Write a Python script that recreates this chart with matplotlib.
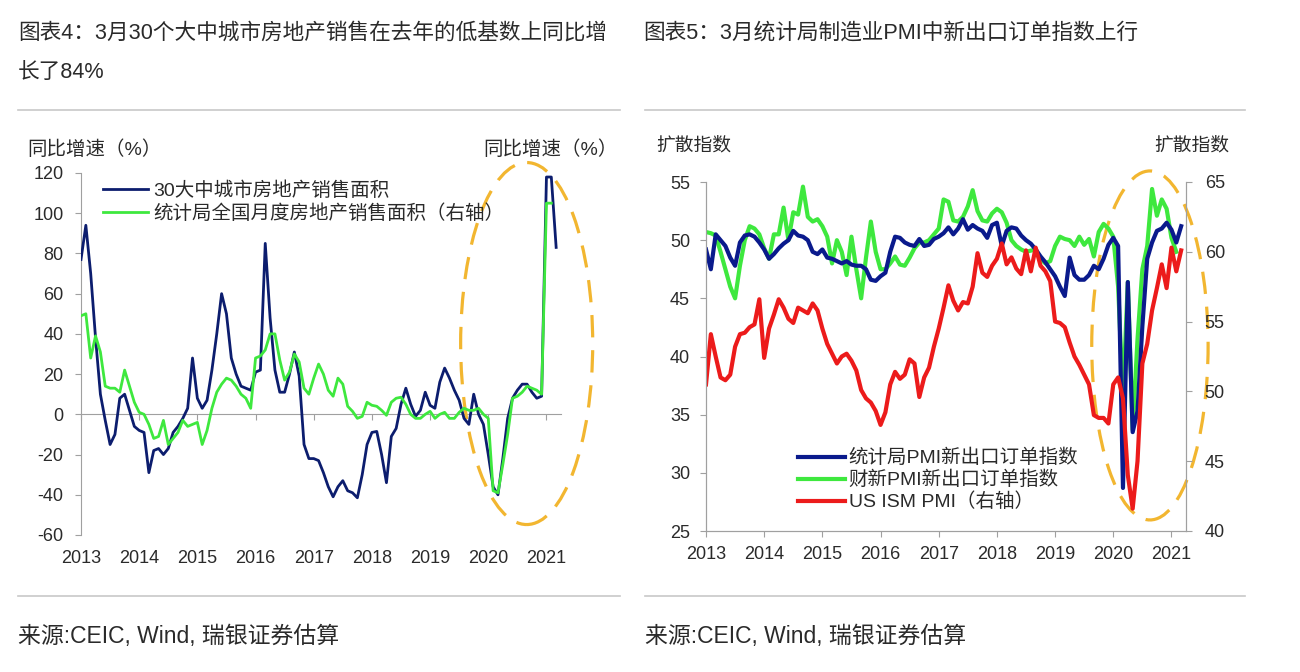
import numpy as np
import matplotlib
matplotlib.use('Agg')
import matplotlib.pyplot as plt
from matplotlib.patches import Ellipse
from matplotlib.lines import Line2D

plt.rcParams['font.family'] = ['Liberation Sans', 'Noto Sans CJK SC']
plt.rcParams['axes.unicode_minus'] = False

# monthly, Jan 2013 .. Mar 2021
city30_sales = [77, 94, 70, 38, 10, -3, -15, -10, 8, 10, 2, -6,
                -8, -9, -29, -18, -17, -20, -17, -9, -6, -2, 3, 28,
                8, 3, 7, 22, 40, 60, 50, 28, 20, 14, 13, 12,
                21, 22, 85, 48, 22, 11, 11, 20, 31, 19, -15, -22,
                -22, -23, -29, -36, -41, -36, -33, -38, -39, -41.5, -30, -15,
                -9, -8.5, -20, -34, -11, -7, 5, 13, 5, -1, 2, 11,
                4.5, 3, 16, 23, 18, 12, 7, -2, -5, 10, 0, -5,
                -20, -36, -40, -22, -2, 8, 12, 15, 15, 11, 8, 9,
                118, 118, 83]
nbs_sales = [49, 50, 28, 39, 31, 14, 13, 13, 11, 22, 14, 6,
             1, 0, -5, -12, -11, -3, -15, -12, -9, -3, -6, -5,
             -4, -15, -8, 3, 11, 15, 18, 17, 14, 10, 8, 3,
             28, 29, 32, 40, 40, 27, 17, 21, 30, 26, 13, 10,
             18, 25, 20, 12, 9, 18, 15, 4, 1.5, -2, -1, 6,
             4.5, 4, 2, -0.5, 6, 8, 8.5, 5, 0, -2, -2, 0,
             1.5, -2, 0, 1, -2, -2, 1, 3, 2, 2, 3, 0,
             -2, -38, -39, -25, -10, 8, 9, 11, 14, 13, 12, 10,
             105, 105, np.nan]

nbs_export = [49.2, 47.5, 50.5, 50.0, 49.5, 48.5, 47.8, 49.8, 50.4, 50.5, 50.3, 49.8,
              49.2, 48.4, 48.8, 49.3, 49.7, 50.0, 50.8, 50.4, 50.3, 50.0, 49.0, 48.8,
              49.2, 48.5, 48.4, 48.2, 48.0, 48.2, 47.9, 47.8, 47.8, 47.5, 46.6, 46.5,
              46.9, 47.2, 49.0, 50.3, 50.2, 49.8, 49.6, 49.5, 50.1, 49.5, 49.6, 50.1,
              50.3, 50.6, 51.1, 50.5, 51.0, 51.8, 50.9, 51.3, 51.0, 50.8, 50.2, 51.3,
              51.5, 49.5, 50.8, 51.1, 51.0, 50.4, 50.0, 49.7, 49.2, 48.6, 48.1, 47.5,
              46.9, 46.0, 45.2, 48.5, 47.0, 46.6, 46.6, 47.0, 47.8, 47.5, 48.4, 49.6,
              50.2, 49.5, 28.7, 46.4, 33.5, 35.3, 42.6, 48.4, 49.8, 50.8, 51.0, 51.5,
              50.9, 49.8, 51.2]
caixin_export = [50.7, 50.6, 50.4, 49.0, 47.5, 46.0, 45.0, 47.8, 50.0, 51.2, 51.0, 50.5,
                 49.3, 48.4, 50.5, 50.5, 52.8, 50.0, 52.4, 52.2, 54.6, 52.0, 51.6, 51.8,
                 51.2, 50.3, 48.0, 50.0, 49.0, 47.0, 50.3, 47.5, 45.0, 48.5, 51.6, 49.0,
                 47.5, 47.5, 48.0, 48.6, 47.9, 47.8, 48.5, 49.3, 49.8, 49.8, 50.0, 50.5,
                 51.0, 53.5, 53.3, 51.7, 51.6, 52.0, 52.9, 54.3, 52.5, 51.7, 51.6, 52.3,
                 52.7, 52.4, 51.5, 50.0, 49.5, 49.2, 49.0, 49.1, 49.2, 48.4, 48.0, 48.2,
                 49.5, 50.3, 50.1, 50.0, 49.5, 50.3, 49.6, 50.1, 48.6, 50.7, 51.4, 51.0,
                 50.3, 46.0, 36.5, 46.4, 33.7, 41.5, 47.5, 49.5, 54.4, 52.1, 53.5, 52.7,
                 50.2, 49.0, np.nan]
us_ism = [50.5, 54.1, 52.5, 51.0, 50.8, 51.2, 53.2, 54.1, 54.2, 54.6, 54.8, 56.6,
          52.4, 54.5, 55.5, 56.6, 56.0, 55.2, 54.9, 56.0, 55.8, 55.6, 56.3, 55.8,
          54.5, 53.4, 52.7, 52.0, 52.5, 52.7, 52.2, 51.5, 50.1, 49.5, 49.2, 48.6,
          47.6, 48.5, 50.5, 51.4, 50.9, 51.2, 52.3, 52.0, 49.6, 51.0, 51.7, 53.2,
          54.5, 56.0, 57.6, 56.5, 55.8, 56.4, 56.3, 57.5, 59.9, 58.5, 58.2, 59.0,
          59.5, 60.6, 59.1, 59.6, 58.8, 58.4, 60.1, 58.6, 60.3, 59.0, 58.6, 57.9,
          55.0, 54.9, 54.6, 53.5, 52.5, 51.9, 51.2, 50.5, 48.3, 48.1, 48.1, 47.7,
          50.5, 51.0, 49.5, 44.0, 41.6, 45.0, 52.0, 53.4, 55.8, 57.4, 59.1, 57.4,
          60.3, 58.6, 60.1]

years = list(range(2013, 2022))
t = 2013 + np.arange(len(city30_sales)) / 12

W, H = 1300, 672
def fx(x):
    return x / W
def fy(y):
    return 1 - y / H

NAVY = '#0c1d6e'
NAVY2 = '#0a1a8c'
GREEN = '#3ee83e'
RED = '#ec1b1b'
GOLD = '#f2b630'
SPINE = '#a0a0a0'
TXT = '#2a2a2a'

fig = plt.figure(figsize=(13, 6.72), dpi=100)
fig.patch.set_facecolor('white')

# ---------- left chart ----------
ax1 = fig.add_axes([fx(81), fy(535), fx(561 - 81), (535 - 173) / H])
ax1.plot(t, city30_sales, color=NAVY, lw=2.0, label='30大中城市房地产销售面积', zorder=3)
ax1.plot(t, nbs_sales, color=GREEN, lw=2.0, label='统计局全国月度房地产销售面积（右轴）', zorder=4)
ax1.add_patch(Ellipse((2020.66, 35.2), 2.27, 180, fill=False, ec=GOLD, lw=2.3,
                      ls=(0, (7, 4)), clip_on=False, zorder=2))
ax1.set_xlim(2013, 2021.25)
ax1.set_ylim(-60, 120)
ax1.set_yticks(range(-60, 121, 20))
ax1.set_xticks(years)
for s in ['top', 'right', 'bottom']:
    ax1.spines[s].set_visible(False)
ax1.spines['left'].set_color(SPINE)
ax1.tick_params(axis='y', direction='out', length=4.5, color=SPINE, labelsize=13,
                labelcolor=TXT, pad=8)
ax1.tick_params(axis='x', length=0, labelsize=13, labelcolor=TXT, pad=11)
zero_ax = ax1.secondary_xaxis(1 / 3)
zero_ax.set_xticks(years)
zero_ax.tick_params(axis='x', direction='out', length=4, color=SPINE, labelbottom=False)
zero_ax.spines['bottom'].set_color(SPINE)
ax1.legend(loc='upper left', bbox_to_anchor=(fx(103), fy(181)), bbox_transform=fig.transFigure,
           frameon=False, fontsize=14, handlelength=2.3, handletextpad=0.3,
           labelspacing=0.25, borderpad=0, borderaxespad=0, labelcolor=TXT)

# ---------- right chart ----------
ax2 = fig.add_axes([fx(706), fy(531), fx(1186 - 706), (531 - 182) / H])
ax2.plot(t, caixin_export, color=GREEN, lw=3.0, zorder=3)
ax2.plot(t, nbs_export, color=NAVY2, lw=3.0, zorder=4)
ax2.add_patch(Ellipse((2020.63, 40.95), 2.0, 30, fill=False, ec=GOLD, lw=2.3,
                      ls=(0, (7, 4)), clip_on=False, zorder=2))
ax2.set_xlim(2013, 2021.25)
ax2.set_ylim(25, 55)
ax2.set_yticks(range(25, 56, 5))
ax2.set_xticks(years)
ax2r = ax2.twinx()
ax2r.plot(t, us_ism, color=RED, lw=3.0)
ax2r.set_ylim(40, 65)
ax2r.set_yticks(range(40, 66, 5))
for a in (ax2, ax2r):
    a.spines['top'].set_visible(False)
    for s in ['left', 'right', 'bottom']:
        a.spines[s].set_color(SPINE)
ax2.tick_params(axis='y', direction='out', length=4.5, color=SPINE, labelsize=13,
                labelcolor=TXT, pad=7)
ax2.tick_params(axis='x', direction='out', length=4, color=SPINE, labelsize=13,
                labelcolor=TXT, pad=7)
ax2r.tick_params(axis='y', direction='out', length=4.5, color=SPINE, labelsize=13,
                 labelcolor=TXT, pad=9)

handles = [Line2D([], [], color=NAVY2, lw=3.0), Line2D([], [], color=GREEN, lw=3.0),
           Line2D([], [], color=RED, lw=3.0)]
labels = ['统计局PMI新出口订单指数', '财新PMI新出口订单指数', 'US ISM PMI（右轴）']
ax2r.legend(handles, labels, loc='upper left', bbox_to_anchor=(fx(798), fy(449)),
            bbox_transform=fig.transFigure, frameon=False, fontsize=14,
            handlelength=2.4, handletextpad=0.2, labelspacing=0.18, borderpad=0,
            borderaxespad=0, labelcolor=TXT)

# ---------- titles, axis captions, sources ----------
fig.text(fx(18), fy(33), '图表4：3月30个大中城市房地产销售在去年的低基数上同比增', fontsize=15.6,
         color=TXT, va='center')
fig.text(fx(18), fy(72), '长了84%', fontsize=15.6, color=TXT, va='center')
fig.text(fx(643), fy(33), '图表5：3月统计局制造业PMI中新出口订单指数上行', fontsize=15.6,
         color=TXT, va='center')

fig.text(fx(27), fy(150), '同比增速（%）', fontsize=14, color=TXT, va='center')
fig.text(fx(483), fy(150), '同比增速（%）', fontsize=14, color=TXT, va='center')
fig.text(fx(656), fy(146), '扩散指数', fontsize=13.5, color=TXT, va='center')
fig.text(fx(1154), fy(146), '扩散指数', fontsize=13.5, color=TXT, va='center')

fig.text(fx(18), fy(637), '来源:CEIC, Wind, 瑞银证券估算', fontsize=16.5, color=TXT, va='center')
fig.text(fx(645), fy(637), '来源:CEIC, Wind, 瑞银证券估算', fontsize=16.5, color=TXT, va='center')

for x0, x1 in [(18, 620), (645, 1245)]:
    for yy in (110, 596):
        fig.add_artist(Line2D([fx(x0), fx(x1)], [fy(yy), fy(yy)], color='#c8c8c8', lw=1.2))

fig.savefig('out.png', dpi=100)
